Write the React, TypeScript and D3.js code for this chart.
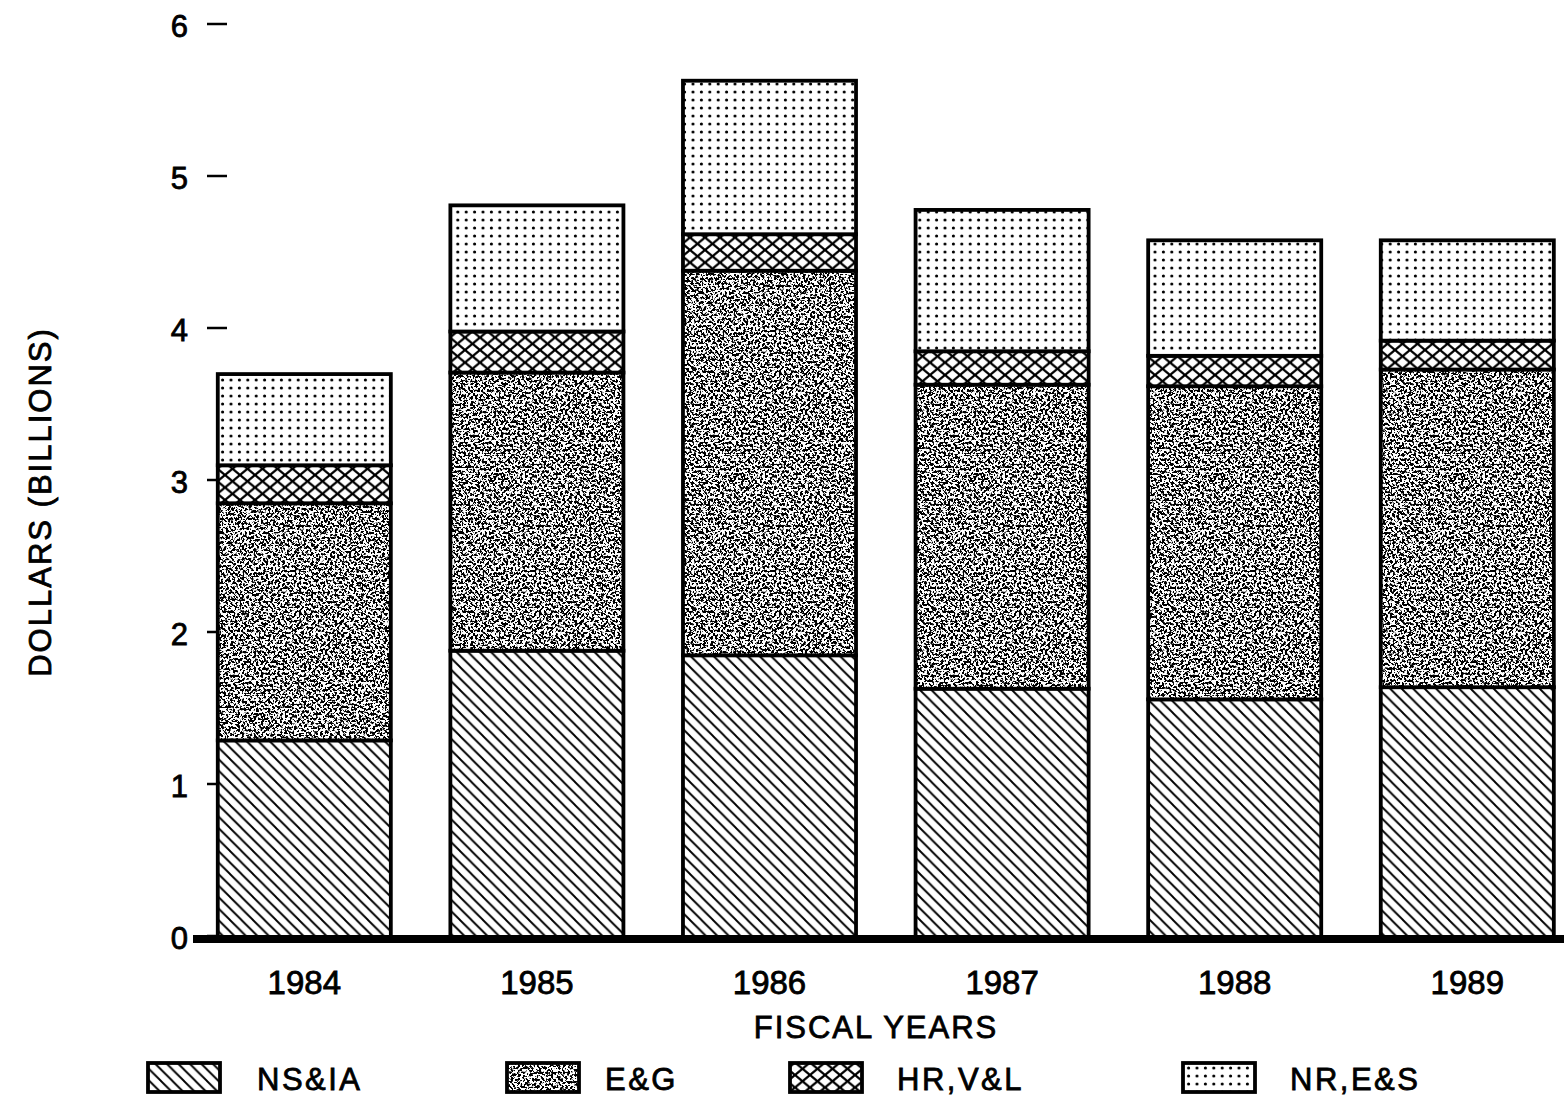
import React from 'react';
import * as d3 from 'd3';

// fiscal years and segment values (billions of dollars), bottom to top
const years = ['1984', '1985', '1986', '1987', '1988', '1989'];
const nsia = [1.3, 1.89, 1.86, 1.64, 1.57, 1.65];
const eg = [1.56, 1.83, 2.53, 2.0, 2.06, 2.09];
const hrvl = [0.25, 0.27, 0.24, 0.22, 0.2, 0.19];
const nres = [0.6, 0.83, 1.01, 0.93, 0.76, 0.66];
const seriesNames = ['NS&IA', 'E&G', 'HR,V&L', 'NR,E&S'];
const yTicks = [0, 1, 2, 3, 4, 5, 6];

const W = 1564;
const H = 1099;
const font = '"Liberation Sans", Arial, Helvetica, sans-serif';
const fills = ['url(#diag)', 'url(#stip)', 'url(#cross)', 'url(#dots)'];

// heavier-than-regular look of the printed type
const txt = { fontFamily: font, fill: '#000', stroke: '#000', strokeWidth: 0.8 };

export default function App() {
  const x = d3.scaleBand<string>()
    .domain(years)
    .range([188, 188 + 6 * 232.6])
    .paddingInner(0.256)
    .paddingOuter(0.128);
  const y = d3.scaleLinear().domain([0, 6]).range([938, 26]);

  const table = years.map((yr, i) => ({
    year: yr, 'NS&IA': nsia[i], 'E&G': eg[i], 'HR,V&L': hrvl[i], 'NR,E&S': nres[i],
  }));
  const stacked = d3.stack<any>().keys(seriesNames)(table);

  const legendX = [148, 507, 790, 1183];
  const legendTextX = [257, 605, 897, 1290];

  return (
    <div style={{ position: 'absolute', left: 0, top: 0 }}>
      <svg width={W} height={H} style={{ display: 'block', background: '#fff' }}>
        <defs>
          <pattern id="diag" width="11.5" height="11.5" patternUnits="userSpaceOnUse">
            <rect width="11.5" height="11.5" fill="#fff" />
            <path d="M-3,-3 L14.5,14.5 M-14.5,-3 L3,14.5 M8.5,-3 L26,14.5" stroke="#000" strokeWidth="1.9" />
          </pattern>
          <pattern id="cross" width="15" height="12.5" patternUnits="userSpaceOnUse">
            <rect width="15" height="12.5" fill="#fff" />
            <path d="M0,0 L15,12.5 M15,0 L0,12.5" stroke="#000" strokeWidth="2.3" />
          </pattern>
          <pattern id="dots" width="8.4" height="8" patternUnits="userSpaceOnUse">
            <rect width="8.4" height="8" fill="#fff" />
            <circle cx="4.2" cy="4" r="1.55" fill="#000" />
          </pattern>
          <filter id="noise" x="0" y="0" width="100%" height="100%" colorInterpolationFilters="sRGB">
            <feTurbulence type="fractalNoise" baseFrequency="0.42" numOctaves="3" seed="7" result="n" />
            <feColorMatrix in="n" type="matrix"
              values="0 0 0 0 0  0 0 0 0 0  0 0 0 0 0  -16 0 0 0 8.3" result="ink" />
            <feFlood floodColor="#fff" result="paper" />
            <feMerge result="m">
              <feMergeNode in="paper" />
              <feMergeNode in="ink" />
            </feMerge>
            <feComposite in="m" in2="SourceGraphic" operator="in" />
          </filter>
          <pattern id="stip" width="240" height="240" patternUnits="userSpaceOnUse">
            <rect width="240" height="240" fill="#000" filter="url(#noise)" />
          </pattern>
        </defs>

        {/* y axis tick labels and dashes */}
        {yTicks.map(t => (
          <g key={t}>
            <text x={188} y={y(t)} dy="0.36em" textAnchor="end" fontSize={31} {...txt}>{t}</text>
            <line x1={207} x2={227} y1={y(t) - 2} y2={y(t) - 2} stroke="#000" strokeWidth={2.5} />
          </g>
        ))}

        {/* stacked bars */}
        {stacked.map((s, si) => (
          <g key={s.key}>
            {s.map((d, i) => (
              <rect key={i} x={x(years[i])} y={y(d[1])} width={x.bandwidth()}
                height={y(d[0]) - y(d[1])} fill={fills[si]} stroke="#000" strokeWidth={3.8} />
            ))}
          </g>
        ))}

        {/* baseline */}
        <line x1={193} x2={W} y1={y(0) + 1} y2={y(0) + 1} stroke="#000" strokeWidth={8} />

        {/* year labels */}
        {years.map(yr => (
          <text key={yr} x={(x(yr) as number) + x.bandwidth() / 2} y={994} textAnchor="middle"
            fontSize={33} {...txt}>{yr}</text>
        ))}

        <text x={876} y={1038} textAnchor="middle" fontSize={31} letterSpacing={2} {...txt}>
          FISCAL YEARS
        </text>
        <text transform={`translate(51,${502}) rotate(-90)`} textAnchor="middle" fontSize={31}
          letterSpacing={2} {...txt}>
          DOLLARS (BILLIONS)
        </text>

        {/* legend */}
        {seriesNames.map((nm, i) => (
          <g key={nm}>
            <rect x={legendX[i]} y={1063} width={72} height={29} fill={fills[i]} stroke="#000" strokeWidth={3.8} />
            <text x={legendTextX[i]} y={1090} fontSize={31} letterSpacing={2.5} {...txt}>{nm}</text>
          </g>
        ))}
      </svg>
    </div>
  );
}
